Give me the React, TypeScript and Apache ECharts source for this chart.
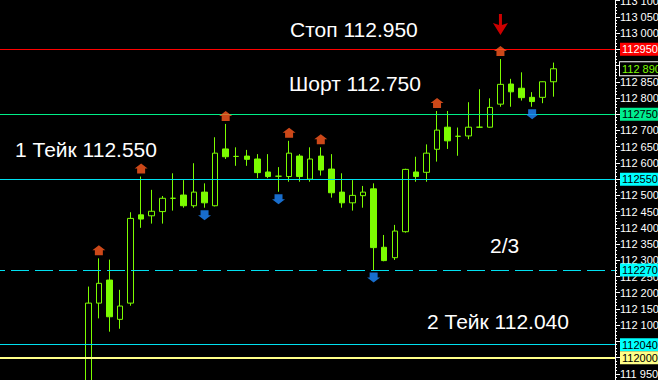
import React, { useEffect, useRef } from 'react';
import * as echarts from 'echarts';

// ---- data (bar index, prices) ----
const bars = [
  0, 1, 2, 3, 4, 5, 6, 7, 8, 9, 10, 11, 12, 13, 14, 15, 16, 17, 18, 19, 20, 21,
  22, 23, 24, 25, 26, 27, 28, 29, 30, 31, 32, 33, 34, 35, 36, 37, 38, 39, 40,
  41, 42, 43, 44,
];
const opens = [
  111.92, 112.168, 112.239, 112.118, 112.168, 112.44, 112.437, 112.45, 112.491,
  112.501, 112.468, 112.51, 112.468, 112.643, 112.62, 112.621, 112.612, 112.572,
  112.559, 112.558, 112.621, 112.55, 112.621, 112.581, 112.51, 112.477, 112.499,
  112.52, 112.34, 112.308, 112.388, 112.572, 112.571, 112.642, 112.71, 112.682,
  112.683, 112.71, 112.71, 112.781, 112.843, 112.83, 112.802, 112.802, 112.85,
];
const closes = [
  112.168, 112.229, 112.126, 112.159, 112.429, 112.427, 112.451, 112.491,
  112.491, 112.468, 112.51, 112.477, 112.63, 112.619, 112.62, 112.611, 112.57,
  112.558, 112.559, 112.63, 112.558, 112.612, 112.578, 112.508, 112.477, 112.5,
  112.51, 112.339, 112.299, 112.39, 112.58, 112.558, 112.63, 112.701, 112.668,
  112.682, 112.71, 112.71, 112.771, 112.842, 112.819, 112.801, 112.789, 112.85,
  112.89,
];
const lows = [
  111.9, 112.121, 112.08, 112.089, 112.16, 112.4, 112.413, 112.413, 112.453,
  112.462, 112.462, 112.462, 112.466, 112.612, 112.591, 112.591, 112.553,
  112.553, 112.511, 112.542, 112.542, 112.542, 112.561, 112.493, 112.462,
  112.453, 112.462, 112.27, 112.297, 112.301, 112.385, 112.542, 112.542, 112.604,
  112.643, 112.622, 112.673, 112.709, 112.709, 112.773, 112.773, 112.792,
  112.773, 112.784, 112.804,
];
const highs = [
  112.219, 112.306, 112.302, 112.209, 112.448, 112.558, 112.517, 112.498,
  112.568, 112.547, 112.599, 112.537, 112.679, 112.72, 112.648, 112.64, 112.627,
  112.627, 112.587, 112.668, 112.627, 112.648, 112.648, 112.627, 112.568,
  112.547, 112.529, 112.537, 112.378, 112.409, 112.582, 112.619, 112.657, 112.76,
  112.76, 112.709, 112.787, 112.827, 112.799, 112.92, 112.859, 112.879, 112.818,
  112.851, 112.909,
];
const upFractalBars = [1, 5, 13, 19, 22, 33, 39];
const downFractalBars = [11, 18, 27, 42];
const signalBar = 39;
const levelPrices = [112.95, 112.89, 112.75, 112.55, 112.27, 112.04, 112.0];
const annotationTexts = [
  'Стоп 112.950',
  'Шорт 112.750',
  '1 Тейк 112.550',
  '2/3',
  '2 Тейк 112.040',
];

// ---- styles ----
const CANDLE = '#7CFC00';
const FONT = 'Arial, "Liberation Sans", sans-serif';
const levelStyles = [
  { line: '#FF0000', width: 1, type: 'solid', bg: '#FF0000', fg: '#FFFFFF', border: null, spaced: false },
  { line: null, width: 1, type: 'solid', bg: '#000000', fg: '#7CFC00', border: '#FFFFFF', spaced: true },
  { line: '#00EE88', width: 1, type: 'solid', bg: '#00EE90', fg: '#000000', border: null, spaced: false },
  { line: '#00E0F0', width: 1, type: 'solid', bg: '#00FFFF', fg: '#000000', border: null, spaced: false },
  { line: '#00E0F0', width: 1, type: [18, 6], bg: '#00FFFF', fg: '#000000', border: null, spaced: false },
  { line: '#00E0F0', width: 1, type: 'solid', bg: '#00FFFF', fg: '#000000', border: null, spaced: false },
  { line: '#FFFF88', width: 2, type: 'solid', bg: '#FFFF88', fg: '#000000', border: null, spaced: false },
];
const annotationPos = [
  [290, 29],
  [289, 83],
  [15, 149],
  [490, 245],
  [427, 321],
];

const fmtPrice = (v: number, spaced: boolean) => {
  const s = Math.round(v * 1000).toString();
  return spaced ? s.slice(0, 3) + ' ' + s.slice(3) : s;
};

// axis labels that sit fully under a price tag are not visible in the reference
const coveredByTag = (v: number) =>
  levelPrices.some((p) => Math.abs(p - v) < 0.0151);

const UP_ARROW = 'path://M6.5,0 L13,5 L10.5,5 L10.5,10 L2.5,10 L2.5,5 L0,5 Z';
const DOWN_ARROW = 'path://M2.5,0 L10.5,0 L10.5,5 L13,5 L6.5,10 L0,5 L2.5,5 Z';
const SIGNAL_ARROW = 'path://M6,0 L9,0 L9,11 L15,9 L7.5,21 L0,9 L6,11 Z';

export default function App() {
  const ref = useRef<HTMLDivElement>(null);

  useEffect(() => {
    if (!ref.current) return;
    const chart = echarts.init(ref.current, undefined, { renderer: 'svg' });

    const candleData = bars.map((b, i) => [b, opens[i], closes[i], lows[i], highs[i]]);

    const option: any = {
      animation: false,
      backgroundColor: '#000000',
      grid: {
        left: 0,
        width: 615,
        top: 0.61,
        height: 389.5,
        containLabel: false,
        outerBoundsMode: 'none',
      },
      xAxis: {
        type: 'value',
        min: -8.355,
        max: 49.84,
        show: false,
        splitLine: { show: false },
        axisLine: { onZero: false },
      },
      yAxis: {
        type: 'value',
        position: 'right',
        min: 111.9,
        max: 113.1,
        interval: 0.05,
        splitLine: { show: false },
        axisLine: { show: true, onZero: false, lineStyle: { color: '#FFFFFF', width: 1 } },
        axisTick: { show: true, length: 5, lineStyle: { color: '#FFFFFF' } },
        minorTick: { show: true, splitNumber: 5, length: 2, lineStyle: { color: '#FFFFFF' } },
        axisLabel: {
          color: '#FFFFFF',
          fontSize: 11,
          fontFamily: FONT,
          margin: 5,
          formatter: (v: number) => (coveredByTag(v) ? '' : fmtPrice(v, true)),
        },
      },
      series: [
        {
          type: 'candlestick',
          data: candleData,
          encode: { x: 0, y: [1, 2, 3, 4] },
          barWidth: 6,
          clip: false,
          itemStyle: {
            color: '#000000',
            color0: CANDLE,
            borderColor: CANDLE,
            borderColor0: CANDLE,
            borderColorDoji: CANDLE,
            borderWidth: 1,
          },
          markLine: {
            silent: true,
            symbol: ['none', 'none'],
            animation: false,
            data: levelPrices.map((p, i) => {
              const st = levelStyles[i];
              return {
                yAxis: p,
                lineStyle: {
                  color: st.line || 'rgba(0,0,0,0)',
                  width: st.width,
                  type: st.type,
                  dashOffset: 13,
                },
                label: {
                  show: true,
                  position: 'end',
                  distance: 5,
                  formatter: fmtPrice(p, st.spaced),
                  color: st.fg,
                  backgroundColor: st.bg,
                  borderColor: st.border || st.bg,
                  borderWidth: st.border ? 1 : 0,
                  fontSize: 11,
                  fontFamily: FONT,
                  padding: [1, 6, 0, 2],
                  lineHeight: 12,
                },
              };
            }),
          },
        },
        {
          type: 'scatter',
          data: upFractalBars.map((b) => [b, highs[b]]),
          symbol: UP_ARROW,
          symbolSize: [13, 10],
          symbolOffset: [0, -8],
          itemStyle: { color: '#FF5A1F' },
          silent: true,
          z: 5,
        },
        {
          type: 'scatter',
          data: downFractalBars.map((b) => [b, lows[b]]),
          symbol: DOWN_ARROW,
          symbolSize: [13, 10],
          symbolOffset: [0, 7.5],
          itemStyle: { color: '#1E88FF' },
          silent: true,
          z: 5,
        },
        {
          type: 'scatter',
          data: [[signalBar, highs[signalBar]]],
          symbol: SIGNAL_ARROW,
          symbolSize: [15, 21],
          symbolOffset: [0, -34.5],
          itemStyle: { color: '#FF0000' },
          silent: true,
          z: 5,
        },
      ],
      graphic: annotationTexts.map((t, i) => ({
        type: 'text',
        x: annotationPos[i][0],
        y: annotationPos[i][1],
        z: 10,
        silent: true,
        style: {
          text: t,
          fill: '#FFFFFF',
          fontSize: 21,
          fontFamily: FONT,
          verticalAlign: 'middle',
        },
      })),
    };

    chart.setOption(option);
    return () => chart.dispose();
  }, []);

  return (
    <div
      ref={ref}
      style={{ position: 'fixed', left: 0, top: 0, width: 658, height: 380, background: '#000' }}
    />
  );
}
